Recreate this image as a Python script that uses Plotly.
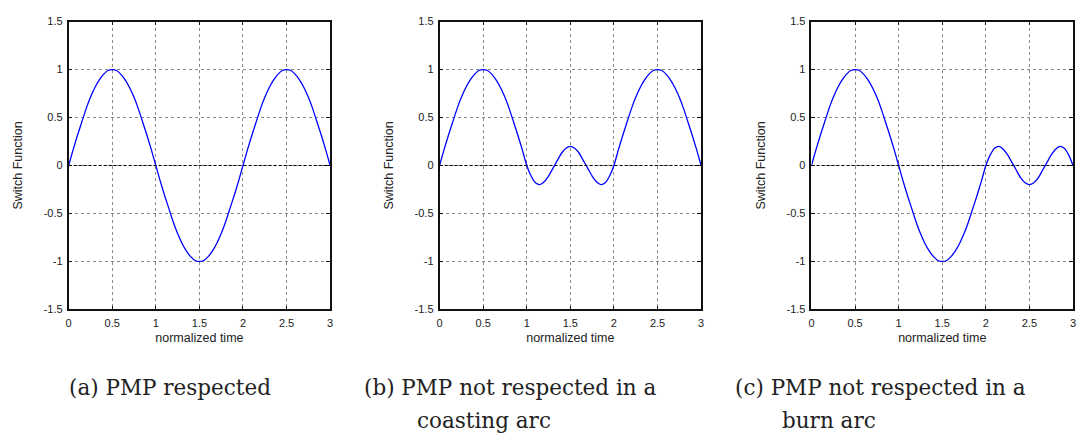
import plotly.graph_objects as go

W, H = 1082, 435

# normalized time samples
T = [0.00, 0.05, 0.10, 0.15, 0.20, 0.25, 0.30, 0.35, 0.40, 0.45,
     0.50, 0.55, 0.60, 0.65, 0.70, 0.75, 0.80, 0.85, 0.90, 0.95,
     1.00, 1.05, 1.10, 1.15, 1.20, 1.25, 1.30, 1.35, 1.40, 1.45,
     1.50, 1.55, 1.60, 1.65, 1.70, 1.75, 1.80, 1.85, 1.90, 1.95,
     2.00, 2.05, 2.10, 2.15, 2.20, 2.25, 2.30, 2.35, 2.40, 2.45,
     2.50, 2.55, 2.60, 2.65, 2.70, 2.75, 2.80, 2.85, 2.90, 2.95,
     3.00]

# (a) PMP respected
SF_A = [0.00, 0.16, 0.31, 0.45, 0.59, 0.71, 0.81, 0.89, 0.95, 0.99,
        1.00, 0.99, 0.95, 0.89, 0.81, 0.71, 0.59, 0.45, 0.31, 0.16,
        0.00, -0.16, -0.31, -0.45, -0.59, -0.71, -0.81, -0.89, -0.95, -0.99,
        -1.00, -0.99, -0.95, -0.89, -0.81, -0.71, -0.59, -0.45, -0.31, -0.16,
        0.00, 0.16, 0.31, 0.45, 0.59, 0.71, 0.81, 0.89, 0.95, 0.99,
        1.00, 0.99, 0.95, 0.89, 0.81, 0.71, 0.59, 0.45, 0.31, 0.16,
        0.00]

# (b) PMP not respected in a coasting arc
SF_B = [0.00, 0.16, 0.31, 0.45, 0.59, 0.71, 0.81, 0.89, 0.95, 0.99,
        1.00, 0.99, 0.95, 0.89, 0.81, 0.71, 0.59, 0.45, 0.31, 0.16,
        0.00, -0.11, -0.18, -0.20, -0.17, -0.11, -0.03, 0.05, 0.13, 0.18,
        0.20, 0.18, 0.13, 0.05, -0.03, -0.11, -0.17, -0.20, -0.18, -0.11,
        0.00, 0.16, 0.31, 0.45, 0.59, 0.71, 0.81, 0.89, 0.95, 0.99,
        1.00, 0.99, 0.95, 0.89, 0.81, 0.71, 0.59, 0.45, 0.31, 0.16,
        0.00]

# (c) PMP not respected in a burn arc
SF_C = [0.00, 0.16, 0.31, 0.45, 0.59, 0.71, 0.81, 0.89, 0.95, 0.99,
        1.00, 0.99, 0.95, 0.89, 0.81, 0.71, 0.59, 0.45, 0.31, 0.16,
        0.00, -0.16, -0.31, -0.45, -0.59, -0.71, -0.81, -0.89, -0.95, -0.99,
        -1.00, -0.99, -0.95, -0.89, -0.81, -0.71, -0.59, -0.45, -0.31, -0.16,
        0.00, 0.11, 0.18, 0.20, 0.17, 0.11, 0.03, -0.05, -0.13, -0.18,
        -0.20, -0.18, -0.13, -0.05, 0.03, 0.11, 0.17, 0.20, 0.18, 0.11,
        0.00]

X_TICKS = [0, 0.5, 1, 1.5, 2, 2.5, 3]
X_TICK_LABELS = ["0", "0.5", "1", "1.5", "2", "2.5", "3"]
Y_TICKS = [-1.5, -1, -0.5, 0, 0.5, 1, 1.5]
Y_TICK_LABELS = ["-1.5", "-1", "-0.5", "0", "0.5", "1", "1.5"]

SERIES = [SF_A, SF_B, SF_C]
CAPTION_LINE1 = ["(a) PMP respected", "(b) PMP not respected in a", "(c) PMP not respected in a"]
CAPTION_LINE2 = ["", "coasting arc", "burn arc"]
X_TITLE = "normalized time"
Y_TITLE = "Switch Function"

# layout geometry (pixels)
PANEL_LEFT = [66, 439, 813]
PANEL_RIGHT = [329, 702, 1076]
PANEL_TOP, PANEL_BOTTOM = 16, 312
CAP1_X = [64, 361, 734]
CAP2_X = [None, 414, 781]

fig = go.Figure()
tickfont = dict(family="Liberation Sans, Arial, sans-serif", size=11, color="#222")
titlefont = dict(family="Liberation Sans, Arial, sans-serif", size=12.5, color="#222")

for i, ys in enumerate(SERIES):
    suf = "" if i == 0 else str(i + 1)
    fig.add_trace(go.Scatter(
        x=T, y=ys, mode="lines", line=dict(color="#0000ff", width=1.3, shape="spline", smoothing=0.6),
        xaxis="x" + suf, yaxis="y" + suf, showlegend=False, hoverinfo="x+y"))
    common = dict(
        showline=True, linecolor="#111", linewidth=1.6, mirror="allticks",
        ticks="inside", ticklen=4, tickcolor="#111", tickwidth=1,
        showgrid=True, gridcolor="#888", griddash="dot", gridwidth=1,
        zeroline=False, tickfont=tickfont,
    )
    fig.layout["xaxis" + suf] = dict(
        common, domain=[PANEL_LEFT[i] / W, PANEL_RIGHT[i] / W], anchor="y" + suf,
        range=[0, 3], tickvals=X_TICKS, ticktext=X_TICK_LABELS, ticklabelstandoff=3,
        title=dict(text=X_TITLE, font=titlefont, standoff=5),
    )
    fig.layout["yaxis" + suf] = dict(
        common, domain=[1 - PANEL_BOTTOM / H, 1 - PANEL_TOP / H], anchor="x" + suf,
        range=[-1.5, 1.5], tickvals=Y_TICKS, ticktext=Y_TICK_LABELS, ticklabelstandoff=2,
        title=dict(text=Y_TITLE, font=titlefont, standoff=18),
    )
    # dashed zero reference line
    fig.add_shape(type="line", xref="x" + suf + " domain", yref="y" + suf,
                  x0=0, x1=1, y0=0, y1=0, line=dict(color="#000", width=1, dash="3px,2px"),
                  layer="above")
    capfont = dict(family="DejaVu Serif, serif", size=21.5, color="#222")
    fig.add_annotation(x=CAP1_X[i] / W, y=1 - 377 / H, xref="paper", yref="paper",
                       xanchor="left", yanchor="top", text=CAPTION_LINE1[i],
                       showarrow=False, font=capfont)
    if CAPTION_LINE2[i]:
        fig.add_annotation(x=CAP2_X[i] / W, y=1 - 411 / H, xref="paper", yref="paper",
                           xanchor="left", yanchor="top", text=CAPTION_LINE2[i],
                           showarrow=False, font=capfont)

fig.update_layout(
    width=W, height=H, margin=dict(l=0, r=0, t=0, b=0),
    paper_bgcolor="white", plot_bgcolor="white",
)

fig.write_html("out.html")
